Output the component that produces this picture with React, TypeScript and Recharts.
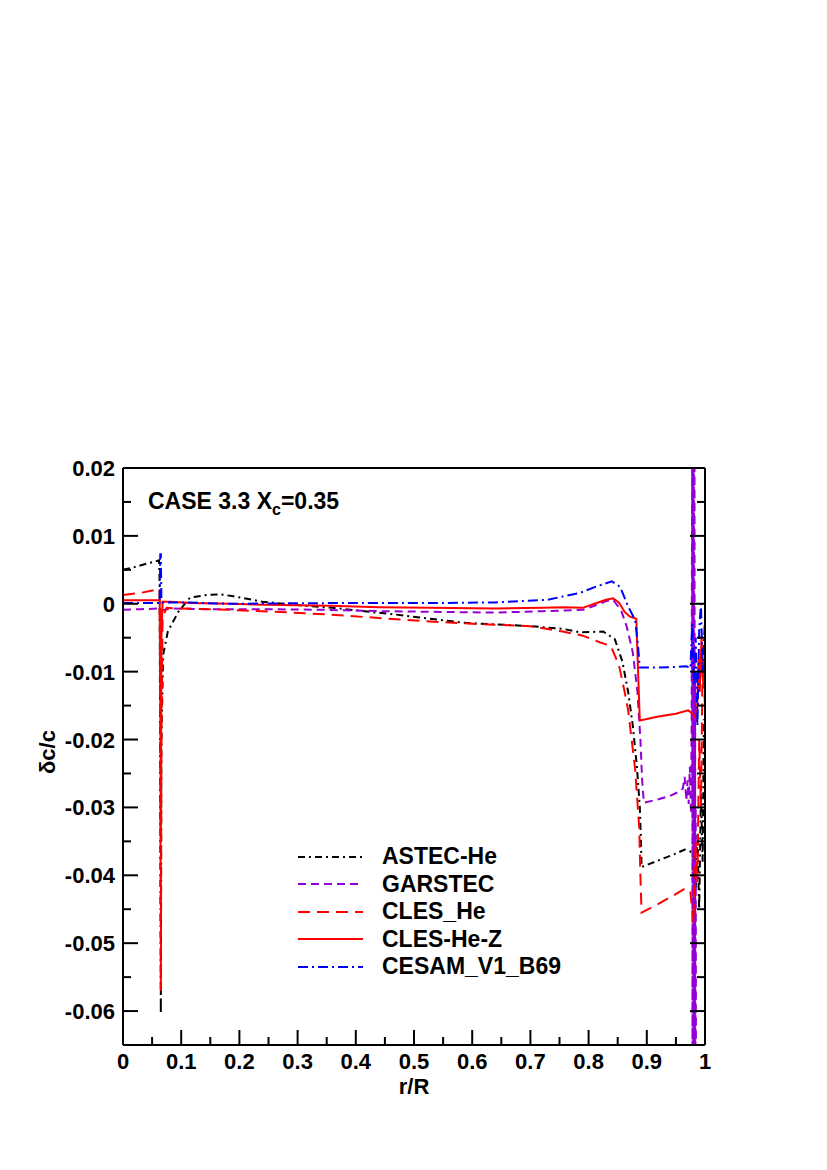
import React from 'react';
import { LineChart, Line, XAxis, YAxis, Legend } from 'recharts';

// r/R , delta c / c
const ASTEC_HE: [number, number][] = [
    [0, 0.005], [0.02, 0.0054], [0.04, 0.0059], [0.058, 0.0063], [0.062, 0.0064], [0.063, 0.003],
    [0.065, -0.0604], [0.066, -0.02], [0.069, -0.0075], [0.077, -0.0041], [0.095, -0.0012],
    [0.115, 0.0009], [0.144, 0.0013], [0.167, 0.0014], [0.19, 0.0011], [0.24, 0.0003],
    [0.3, -0.0002], [0.36, -0.0006], [0.47, -0.0016], [0.585, -0.0028], [0.7, -0.0033],
    [0.756, -0.0037], [0.785, -0.0042], [0.825, -0.0041], [0.845, -0.0052], [0.858, -0.0085],
    [0.868, -0.013], [0.876, -0.018], [0.883, -0.024], [0.888, -0.03], [0.89, -0.035],
    [0.891, -0.0388], [0.92, -0.0378], [0.95, -0.0368], [0.965, -0.0362], [0.975, -0.0365],
    [0.98, -0.0372], [0.984, -0.042], [0.987, -0.034], [0.99, -0.045], [0.993, -0.028],
    [0.996, -0.038], [0.998, -0.017], [1.0, -0.03],
];

const GARSTEC: [number, number][] = [
    [0, -0.0009], [0.03, -0.0008], [0.062, -0.0007], [0.064, -0.0008], [0.065, -0.002],
    [0.066, -0.001], [0.08, -0.0007], [0.15, -0.0008], [0.25, -0.0008], [0.35, -0.0009],
    [0.45, -0.0011], [0.55, -0.0012], [0.64, -0.0013], [0.72, -0.0011], [0.79, -0.0009],
    [0.81, -0.0003], [0.83, 0.0004], [0.842, 0.0006], [0.856, -0.001], [0.866, -0.0035],
    [0.876, -0.0072], [0.884, -0.013], [0.889, -0.02], [0.892, -0.026], [0.895, -0.0293],
    [0.92, -0.0288], [0.94, -0.0283], [0.955, -0.0277], [0.962, -0.0272], [0.965, -0.0255],
    [0.968, -0.029], [0.97, -0.026], [0.972, -0.0295], [0.974, -0.024], [0.976, -0.031],
    [0.977, -0.018], [0.978, 0.025], [0.9785, -0.07], [0.979, 0.025], [0.9795, -0.07],
    [0.98, 0.025], [0.9805, -0.07], [0.981, 0.025], [0.9815, -0.07], [0.982, 0.02],
    [0.9825, -0.07], [0.983, -0.01], [0.9835, -0.07], [0.984, -0.03], [0.9845, -0.07],
];

const CLES_HE: [number, number][] = [
    [0, 0.0013], [0.03, 0.0016], [0.06, 0.0021], [0.063, 0.0022], [0.064, -0.02], [0.065, -0.057],
    [0.066, -0.02], [0.068, -0.002], [0.075, -0.0006], [0.1, -0.0007], [0.184, -0.0009],
    [0.27, -0.0012], [0.356, -0.0016], [0.44, -0.0021], [0.527, -0.0026], [0.61, -0.003],
    [0.7, -0.0033], [0.756, -0.0041], [0.79, -0.0047], [0.82, -0.0057], [0.838, -0.0062],
    [0.852, -0.009], [0.862, -0.013], [0.868, -0.0157], [0.88, -0.0244], [0.887, -0.033],
    [0.889, -0.04], [0.891, -0.0455], [0.92, -0.0442], [0.945, -0.043], [0.967, -0.0419],
    [0.975, -0.0425], [0.98, -0.047], [0.984, -0.035], [0.987, -0.041], [0.99, -0.02],
    [0.993, -0.03], [0.996, -0.008], [1.0, -0.015],
];

const CLES_HE_Z: [number, number][] = [
    [0, 0.0005], [0.03, 0.0005], [0.063, 0.0005], [0.064, -0.01], [0.065, -0.034], [0.066, -0.005],
    [0.068, 0.0003], [0.08, 0.0003], [0.12, 0.0001], [0.184, 0], [0.27, -0.0002], [0.356, -0.0003],
    [0.44, -0.0005], [0.527, -0.0006], [0.64, -0.0007], [0.72, -0.0006], [0.756, -0.0005],
    [0.79, -0.0006], [0.81, 0], [0.83, 0.0006], [0.842, 0.0008], [0.852, 0.0002], [0.862, -0.0012],
    [0.871, -0.0019], [0.882, -0.0022], [0.885, -0.01], [0.888, -0.0172], [0.92, -0.0166],
    [0.95, -0.0162], [0.971, -0.0157], [0.979, -0.0162], [0.986, -0.0172], [0.989, -0.008],
    [0.991, -0.013], [0.994, -0.005], [0.997, -0.012], [1.0, -0.009],
];

const CESAM_V1_B69: [number, number][] = [
    [0, 0.0001], [0.03, 0.0001], [0.063, 0.0001], [0.064, 0.0073], [0.065, 0.0073], [0.066, 0.0005],
    [0.068, 0.0002], [0.1, 0.0002], [0.184, 0], [0.356, 0.0001], [0.527, 0.0001], [0.64, 0.0002],
    [0.73, 0.0006], [0.785, 0.0016], [0.815, 0.0026], [0.84, 0.0033], [0.854, 0.0025],
    [0.868, -0.0004], [0.88, -0.0024], [0.885, -0.0063], [0.888, -0.0094], [0.92, -0.0094],
    [0.95, -0.0093], [0.968, -0.0092], [0.975, -0.0095], [0.978, -0.003], [0.981, -0.012],
    [0.984, -0.005], [0.987, -0.018], [0.99, -0.004], [0.993, 0], [0.996, -0.01], [1.0, -0.002],
];

const X_TICKS = [0, 0.05, 0.1, 0.15, 0.2, 0.25, 0.3, 0.35, 0.4, 0.45, 0.5, 0.55, 0.6, 0.65, 0.7, 0.75, 0.8, 0.85, 0.9, 0.95, 1];
const Y_TICKS = [0.02, 0.015, 0.01, 0.005, 0, -0.005, -0.01, -0.015, -0.02, -0.025, -0.03, -0.035, -0.04, -0.045, -0.05, -0.055, -0.06];

const SERIES = [
    { name: 'ASTEC-He', data: ASTEC_HE, color: '#000000', dash: '7 4 2 4' },
    { name: 'GARSTEC', data: GARSTEC, color: '#9400d3', dash: '8 5' },
    { name: 'CLES_He', data: CLES_HE, color: '#ff0000', dash: '12 7' },
    { name: 'CLES-He-Z', data: CLES_HE_Z, color: '#ff0000', dash: undefined },
    { name: 'CESAM_V1_B69', data: CESAM_V1_B69, color: '#0000ff', dash: '10 4 2 4' },
];

const FONT = '"Liberation Sans", Arial, Helvetica, sans-serif';
const MAJOR = 15;
const MINOR = 8;

const isMajor = (v: number, step: number) => Math.abs(v / step - Math.round(v / step)) < 1e-6;
const fmt = (v: number) => String(Number(v.toFixed(3)));

const BottomTick = (props: any) => {
    const { x, y, payload } = props;
    const major = isMajor(payload.value, 0.1);
    return (
        <g>
            <line x1={x} y1={y} x2={x} y2={y - (major ? MAJOR : MINOR)} stroke="#000" strokeWidth={2} />
            {major && (
                <text x={x} y={y + 24} textAnchor="middle" fontFamily={FONT} fontWeight="bold" fontSize={22} fill="#000">
                    {fmt(payload.value)}
                </text>
            )}
        </g>
    );
};

const TopTick = (props: any) => {
    const { x, y, payload } = props;
    const major = isMajor(payload.value, 0.1);
    return <line x1={x} y1={y} x2={x} y2={y + (major ? MAJOR : MINOR)} stroke="#000" strokeWidth={2} />;
};

const LeftTick = (props: any) => {
    const { x, y, payload } = props;
    const major = isMajor(payload.value, 0.01);
    return (
        <g>
            <line x1={x} y1={y} x2={x + (major ? MAJOR : MINOR)} y2={y} stroke="#000" strokeWidth={2} />
            {major && (
                <text x={x - 8} y={y + 8} textAnchor="end" fontFamily={FONT} fontWeight="bold" fontSize={22} fill="#000">
                    {fmt(payload.value)}
                </text>
            )}
        </g>
    );
};

const RightTick = (props: any) => {
    const { x, y, payload } = props;
    const major = isMajor(payload.value, 0.01);
    return <line x1={x} y1={y} x2={x - (major ? MAJOR : MINOR)} y2={y} stroke="#000" strokeWidth={2} />;
};

const LegendBox = () => (
    <div style={{ fontFamily: FONT, fontWeight: 'bold', fontSize: 23, color: '#000' }}>
        {SERIES.map(s => (
            <div key={s.name} style={{ display: 'flex', alignItems: 'center', height: 27.5 }}>
                <svg width={86} height={20}>
                    <line x1={2} y1={10} x2={67} y2={10} stroke={s.color} strokeWidth={2} strokeDasharray={s.dash} />
                </svg>
                <span style={{ lineHeight: '27.5px' }}>{s.name}</span>
            </div>
        ))}
    </div>
);

const AXIS_LINE = { stroke: '#000', strokeWidth: 2 };

export default function App() {
    return (
        <div style={{ position: 'absolute', left: 0, top: 0, width: 827, height: 1170, background: '#fff' }}>
            <LineChart width={827} height={1170} margin={{ top: 438, right: 62, bottom: 95, left: 63 }}>
                <XAxis
                    dataKey="r"
                    type="number"
                    domain={[0, 1]}
                    ticks={X_TICKS}
                    interval={0}
                    height={30}
                    tickSize={0}
                    tickMargin={0}
                    tick={<BottomTick />}
                    axisLine={AXIS_LINE}
                    allowDataOverflow
                />
                <XAxis
                    xAxisId="top"
                    orientation="top"
                    type="number"
                    domain={[0, 1]}
                    ticks={X_TICKS}
                    interval={0}
                    height={30}
                    tickSize={0}
                    tickMargin={0}
                    tick={<TopTick />}
                    axisLine={AXIS_LINE}
                    allowDataOverflow
                />
                <YAxis
                    type="number"
                    domain={[-0.065, 0.02]}
                    ticks={Y_TICKS}
                    interval={0}
                    width={60}
                    tickSize={0}
                    tickMargin={0}
                    tick={<LeftTick />}
                    axisLine={AXIS_LINE}
                    allowDataOverflow
                />
                <YAxis
                    yAxisId="right"
                    orientation="right"
                    type="number"
                    domain={[-0.065, 0.02]}
                    ticks={Y_TICKS}
                    interval={0}
                    width={60}
                    tickSize={0}
                    tickMargin={0}
                    tick={<RightTick />}
                    axisLine={AXIS_LINE}
                    allowDataOverflow
                />
                {SERIES.map(s => (
                    <Line
                        key={s.name}
                        name={s.name}
                        data={s.data.map(([r, v]) => ({ r, v }))}
                        dataKey="v"
                        type="linear"
                        stroke={s.color}
                        strokeWidth={2}
                        strokeDasharray={s.dash}
                        dot={false}
                        activeDot={false}
                        isAnimationActive={false}
                    />
                ))}
                <Legend
                    layout="vertical"
                    align="center"
                    verticalAlign="middle"
                    content={<LegendBox />}
                    wrapperStyle={{ left: 296, top: 843, width: 320 }}
                />
            </LineChart>
            <svg width={827} height={1170} style={{ position: 'absolute', left: 0, top: 0, pointerEvents: 'none' }}>
                <text x={148} y={509} fontFamily={FONT} fontWeight="bold" fontSize={23} fill="#000">
                    CASE 3.3 X
                    <tspan fontSize={16} dy={6}>c</tspan>
                    <tspan dy={-6}>=0.35</tspan>
                </text>
                <text x={414} y={1094} textAnchor="middle" fontFamily={FONT} fontWeight="bold" fontSize={22} fill="#000">
                    r/R
                </text>
                <text
                    transform="translate(55 752) rotate(-90)"
                    textAnchor="middle"
                    fontFamily={FONT}
                    fontWeight="bold"
                    fontSize={22}
                    fill="#000"
                >
                    δc/c
                </text>
            </svg>
        </div>
    );
}
